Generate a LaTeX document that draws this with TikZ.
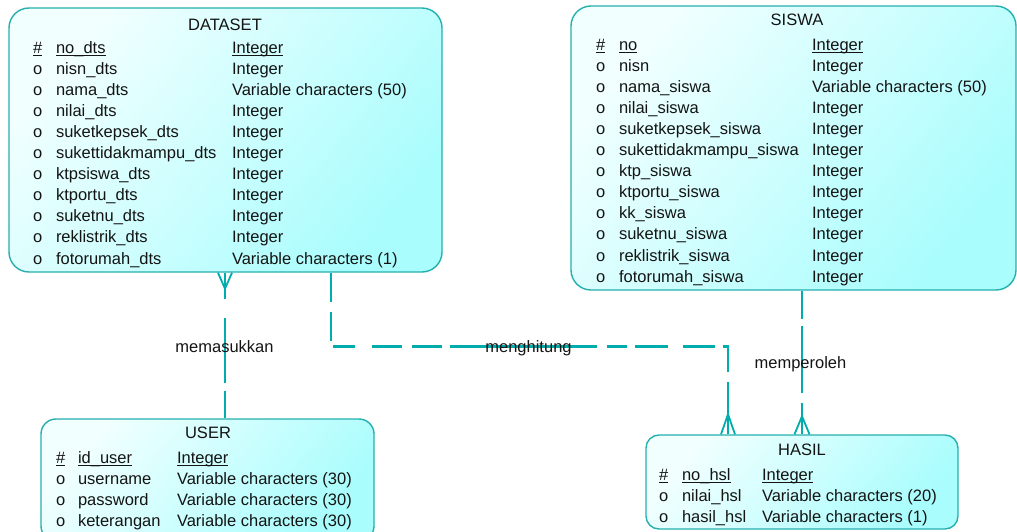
\documentclass[tikz,border=0pt]{standalone}
\usepackage{fontspec}
\setmainfont{Liberation Sans}
\usetikzlibrary{calc}
\definecolor{edge}{HTML}{25AFAF}
\definecolor{link}{HTML}{00ACAC}
\definecolor{fillA}{HTML}{F2FFFF}
\definecolor{fillB}{HTML}{A9FDFD}
\definecolor{txt}{HTML}{141414}
\newcommand\fsz{\fontsize{16.5}{20}\selectfont}
\newcommand\keyul[1]{\setbox0\hbox{#1}\rlap{\rule[-2.6pt]{\wd0}{0.9pt}}\box0}
\begin{document}
\begin{tikzpicture}[x=1pt,y=-1pt,
  entity/.style={draw=edge, line width=1.4pt, rectangle, rounded corners=#1,
    top color=fillA, bottom color=fillB, shading angle=50, inner sep=0},
  cell/.style={anchor=base west, inner sep=0, outer sep=0, font=\fsz, text=txt},
  etitle/.style={anchor=base, inner sep=0, outer sep=0, font=\fsz, text=txt},
  rel/.style={draw=link, line width=2.8pt},
  foot/.style={draw=link, line width=1.8pt},
  rlabel/.style={anchor=base, inner sep=0, font=\fsz, text=txt}]
\useasboundingbox (0,0) rectangle (1017,531);
\clip (0,0) rectangle (1017,531);

% entities
\node[entity=20pt, minimum width=433pt, minimum height=264pt] (dataset) at (225.5,140) {};
\node[entity=20pt, minimum width=445pt, minimum height=284pt] (siswa) at (793.5,148) {};
\node[entity=15pt, minimum width=333pt, minimum height=122pt] (user) at (207.5,480) {};
\node[entity=13pt, minimum width=312pt, minimum height=94pt] (hasil) at (802,482) {};

% DATASET
\node[etitle] (d-title) at (225,30) {DATASET};
\node[cell] (d-0-m) at (33,53) {\keyul{\#}};
\node[cell] (d-0-n) at (56,53) {\keyul{no\_dts}};
\node[cell] (d-0-t) at (232,53) {\keyul{Integer}};
\foreach[count=\i] \n/\t in {nisn\_dts/Integer, nama\_dts/Variable characters (50),
  nilai\_dts/Integer, suketkepsek\_dts/Integer, sukettidakmampu\_dts/Integer,
  ktpsiswa\_dts/Integer, ktportu\_dts/Integer, suketnu\_dts/Integer,
  reklistrik\_dts/Integer, fotorumah\_dts/Variable characters (1)} {
  \node[cell] (d-\i-m) at (33,{53+21.1*\i}) {o};
  \node[cell] (d-\i-n) at (56,{53+21.1*\i}) {\n};
  \node[cell] (d-\i-t) at (232,{53+21.1*\i}) {\t};
}

% SISWA
\node[etitle] (s-title) at (797,25) {SISWA};
\node[cell] (s-0-m) at (596,50) {\keyul{\#}};
\node[cell] (s-0-n) at (619,50) {\keyul{no}};
\node[cell] (s-0-t) at (812,50) {\keyul{Integer}};
\foreach[count=\i] \n/\t in {nisn/Integer, nama\_siswa/Variable characters (50),
  nilai\_siswa/Integer, suketkepsek\_siswa/Integer, sukettidakmampu\_siswa/Integer,
  ktp\_siswa/Integer, ktportu\_siswa/Integer, kk\_siswa/Integer, suketnu\_siswa/Integer,
  reklistrik\_siswa/Integer, fotorumah\_siswa/Integer} {
  \node[cell] (s-\i-m) at (596,{50+21.1*\i}) {o};
  \node[cell] (s-\i-n) at (619,{50+21.1*\i}) {\n};
  \node[cell] (s-\i-t) at (812,{50+21.1*\i}) {\t};
}

% USER
\node[etitle] (u-title) at (208,438) {USER};
\node[cell] (u-0-m) at (56,463) {\keyul{\#}};
\node[cell] (u-0-n) at (78,463) {\keyul{id\_user}};
\node[cell] (u-0-t) at (177,463) {\keyul{Integer}};
\foreach[count=\i] \n/\t in {username/Variable characters (30),
  password/Variable characters (30), keterangan/Variable characters (30)} {
  \node[cell] (u-\i-m) at (56,{463+21.3*\i}) {o};
  \node[cell] (u-\i-n) at (78,{463+21.3*\i}) {\n};
  \node[cell] (u-\i-t) at (177,{463+21.3*\i}) {\t};
}

% HASIL
\node[etitle] (h-title) at (802,455) {HASIL};
\node[cell] (h-0-m) at (659,480) {\keyul{\#}};
\node[cell] (h-0-n) at (682,480) {\keyul{no\_hsl}};
\node[cell] (h-0-t) at (762,480) {\keyul{Integer}};
\foreach[count=\i] \n/\t in {nilai\_hsl/Variable characters (20),
  hasil\_hsl/Variable characters (1)} {
  \node[cell] (h-\i-m) at (659,{480+21*\i}) {o};
  \node[cell] (h-\i-n) at (682,{480+21*\i}) {\n};
  \node[cell] (h-\i-t) at (762,{480+21*\i}) {\t};
}

% connector end points on the entity borders
\path (dataset.south) ++(-0.5,0) coordinate (ds1);
\path (dataset.south) ++(105.5,0) coordinate (ds2);
\path (siswa.south) ++(8.5,0) coordinate (ss1);
\path (hasil.north) ++(-74,0) coordinate (hs1);
\coordinate (us1) at (ds1 |- user.north);
\coordinate (hs2) at (ss1 |- hasil.north);

% memasukkan
\draw[rel, dash pattern=on 26pt off 19pt on 65pt off 8pt on 40pt] (ds1) -- (us1);
\draw[foot] ($(ds1)+(-7,0)$) -- ($(ds1)+(0,16)$) -- ($(ds1)+(7,0)$);
\node[rlabel] (l-mem) at (224.5,352) {memasukkan};

% menghitung
\draw[rel, dash pattern=on 29pt off 10pt on 29pt off 8pt on 22pt off 17pt on 30pt off 10pt on 30pt off 8pt on 147pt off 10pt on 20pt off 8pt on 33pt off 15pt on 32pt off 8pt on 30pt off 10pt on 70pt]
  (ds2) -- ++(0,74) -| (hs1);
\draw[foot] ($(hs1)+(-7,0)$) -- ($(hs1)+(0,-20)$) -- ($(hs1)+(7,0)$);
\node[rlabel] (l-hit) at (528.5,352) {menghitung};

% memperoleh
\draw[rel, dash pattern=on 28pt off 7pt on 67pt off 10pt on 40pt] (ss1) -- (hs2);
\draw[foot] ($(hs2)+(-7.5,0)$) -- ($(hs2)+(0,-18)$) -- ($(hs2)+(7.5,0)$);
\node[rlabel] (l-per) at (800.5,368) {memperoleh};
\end{tikzpicture}
\end{document}
